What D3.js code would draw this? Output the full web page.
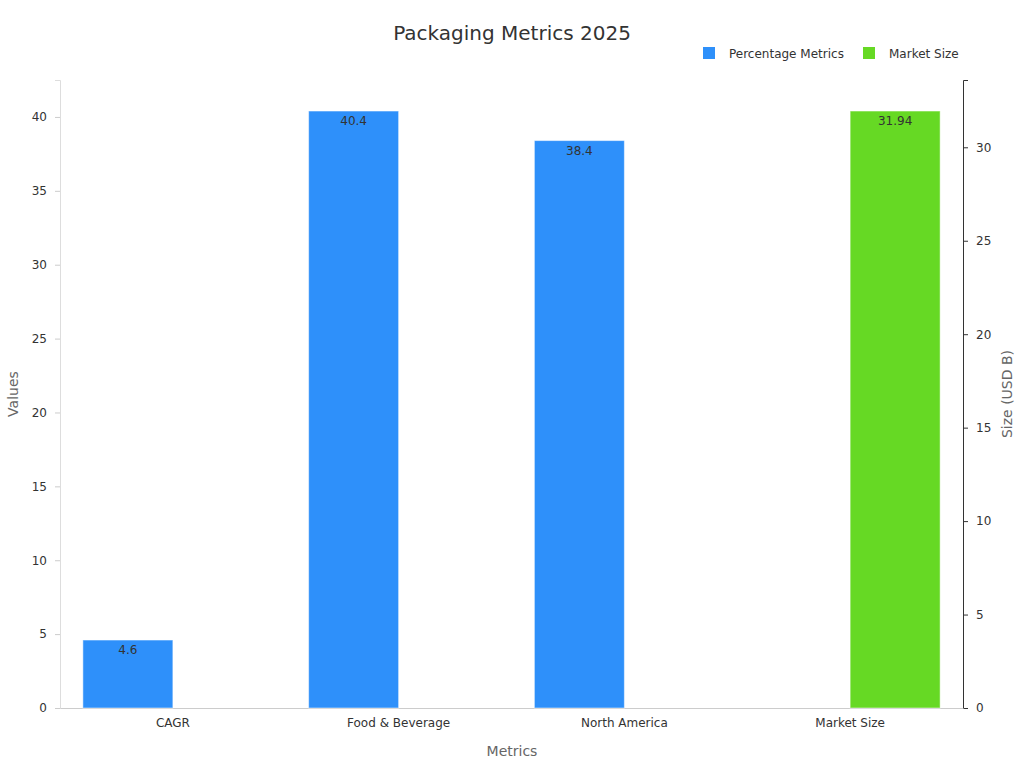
<!DOCTYPE html><html><head><meta charset="utf-8"><script src="https://cdn.jsdelivr.net/npm/d3@7"></script>
<style>body{margin:0;background:#fff;font-family:"DejaVu Sans",sans-serif}</style></head><body><svg width="1024" height="768"></svg>
<script>
const categories=["CAGR","Food & Beverage","North America","Market Size"];
const percentValues=[4.6,40.4,38.4,null];
const sizeValues=[null,null,null,31.94];
const leftTicks=[0,5,10,15,20,25,30,35,40];
const rightTicks=[0,5,10,15,20,25,30];
const svg=d3.select("svg");
const L=60,R=963,T=80,B=708;
const x=d3.scaleBand().domain(categories).range([L,R]);
const yl=d3.scaleLinear().domain([0,42.5]).range([B,T]);
const yr=d3.scaleLinear().domain([0,33.6]).range([B,T]);
const bw=90;
const ax1=svg.append("g").attr("transform",`translate(${L},0)`).call(d3.axisLeft(yl).tickValues(leftTicks).tickSize(5).tickPadding(8));
ax1.select(".domain").attr("stroke","#ddd");ax1.selectAll("line").attr("stroke","#ccc");
ax1.selectAll("text").attr("font-size",12).attr("fill","#333").attr("font-family","DejaVu Sans");
const ax2=svg.append("g").attr("transform",`translate(${R},0)`).call(d3.axisRight(yr).tickValues(rightTicks).tickSize(5).tickPadding(8));
ax2.select(".domain").attr("stroke","#333");ax2.selectAll("line").attr("stroke","#333");
ax2.selectAll("text").attr("font-size",12).attr("fill","#333").attr("font-family","DejaVu Sans");
const ax3=svg.append("g").attr("transform",`translate(0,${B})`).call(d3.axisBottom(x).tickSize(0).tickPadding(10));
ax3.select(".domain").attr("stroke","#ccc");
ax3.selectAll("text").attr("font-size",12).attr("fill","#333").attr("font-family","DejaVu Sans");
function bars(vals,sc,col,off){
 const d=categories.map((c,i)=>({c,v:vals[i]})).filter(e=>e.v!=null);
 const cx=e=>x(e.c)+x.bandwidth()/2+off;
 svg.append("g").selectAll("rect").data(d).join("rect").attr("x",e=>cx(e)-bw/2).attr("width",bw)
  .attr("y",e=>sc(e.v)).attr("height",e=>B-sc(e.v)).attr("fill",col).attr("stroke","#fff").attr("stroke-opacity",0.5);
 svg.append("g").selectAll("text").data(d).join("text").attr("x",cx).attr("y",e=>sc(e.v)+14)
  .attr("text-anchor","middle").attr("font-size",12).attr("fill","#333").text(e=>e.v);
}
bars(percentValues,yl,"#2e90fa",-45);
bars(sizeValues,yr,"#66d924",45);
svg.append("text").attr("x",512).attr("y",40).attr("text-anchor","middle").attr("font-size",20).attr("fill","#333").text("Packaging Metrics 2025");
svg.append("text").attr("x",512).attr("y",756).attr("text-anchor","middle").attr("font-size",14).attr("fill","#666").text("Metrics");
svg.append("text").attr("transform","translate(18,394) rotate(-90)").attr("text-anchor","middle").attr("font-size",14).attr("fill","#666").text("Values");
svg.append("text").attr("transform","translate(1012,394) rotate(-90)").attr("text-anchor","middle").attr("font-size",14).attr("fill","#666").text("Size (USD B)");
[["Percentage Metrics","#2e90fa",703],["Market Size","#66d924",863]].forEach(([t,c,lx])=>{
 svg.append("rect").attr("x",lx).attr("y",47).attr("width",12).attr("height",12).attr("fill",c);
 svg.append("text").attr("x",lx+26).attr("y",58).attr("font-size",12).attr("fill","#333").text(t);
});
</script></body></html>
